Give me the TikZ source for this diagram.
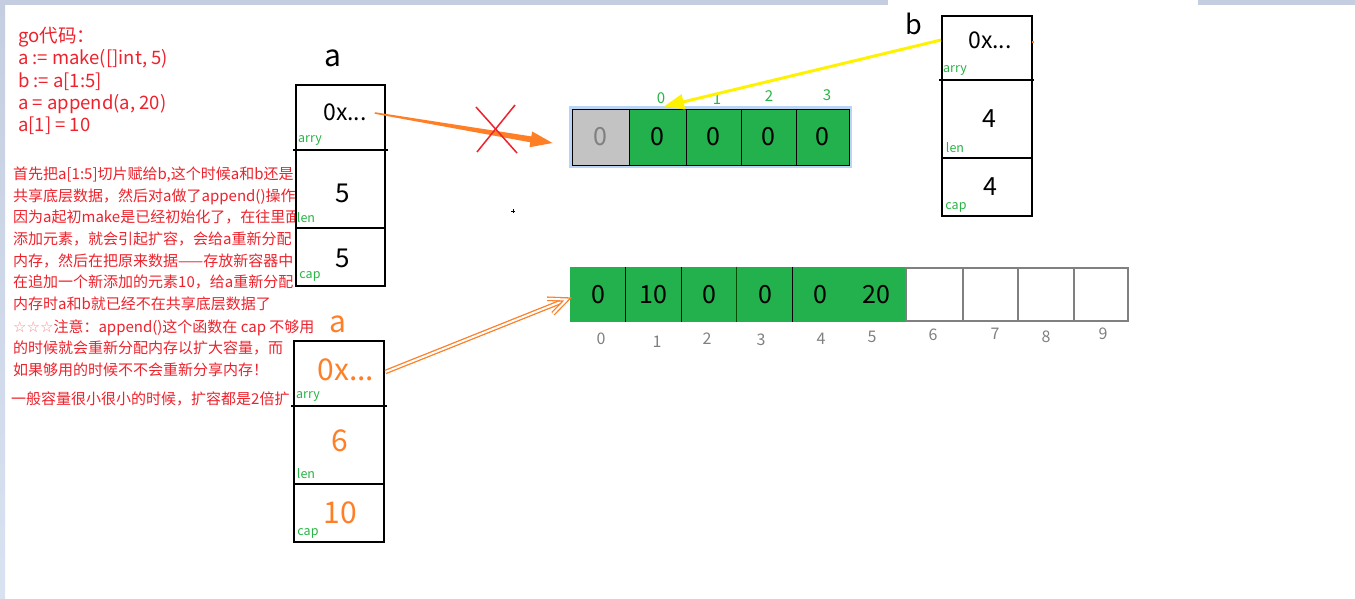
\documentclass[tikz,border=0pt]{standalone}
\usepackage{fontspec}
\setmainfont{Noto Sans CJK SC}
\newfontfamily\djv{DejaVu Sans}
\usetikzlibrary{arrows.meta,calc}
\definecolor{redc}{RGB}{238,34,44}
\definecolor{starc}{RGB}{245,140,140}
\definecolor{orangec}{RGB}{255,127,39}
\definecolor{greenc}{RGB}{34,177,76}
\definecolor{lgreen}{RGB}{40,180,70}
\definecolor{grayc}{RGB}{195,195,195}
\definecolor{idxgray}{RGB}{128,128,128}
\definecolor{yellowc}{RGB}{255,242,0}
\definecolor{stripc}{RGB}{197,206,224}
\definecolor{glowc}{RGB}{185,212,245}
\begin{document}
\begin{tikzpicture}[x=1pt,y=-1pt,
  redtext/.style={text=redc,inner sep=0,anchor=north west,align=left},
  frame/.style={draw=black,line width=2pt,fill=white,inner sep=0},
  divider/.style={draw=black,line width=2pt},
  val/.style={inner sep=0,font=\fontsize{26}{30}\selectfont},
  oval/.style={inner sep=0,text=orangec,font=\fontsize{30}{34}\selectfont},
  fld/.style={inner sep=0,text=lgreen,font=\fontsize{12.5}{14}\selectfont},
  tcell/.style={draw=black,line width=1pt,inner sep=0,minimum height=56pt,font=\fontsize{25}{28}\selectfont},
  gcell/.style={fill=greenc,inner sep=0,minimum height=55pt,font=\fontsize{25}{28}\selectfont},
  wcell/.style={draw=idxgray,line width=2pt,fill=white,inner sep=0,minimum height=53pt},
  tidx/.style={inner sep=0,text=lgreen,font=\fontsize{15}{17}\selectfont},
  bidx/.style={inner sep=0,text=idxgray,font=\fontsize{16}{18}\selectfont},
  lbl/.style={inner sep=0,font=\fontsize{30}{34}\selectfont},
  dbl/.style={orangec,line width=1.3pt,double=white,double distance=2pt}
]
\useasboundingbox (0,0) rectangle (1355,598);
\fill[white] (0,0) rectangle (1355,598);
% window strips
\fill[stripc] (0,0) rectangle (888,5);
\fill[stripc] (1198,0) rectangle (1355,5);
\shade[top color=stripc,bottom color={rgb,255:red,217;green,226;blue,241}] (0,0) rectangle (5,598);

% code and explanation
\node[redtext,font=\fontsize{18.5}{22.3}\selectfont] (code) at (18,27)
  {go代码：\\a := make([]int, 5)\\b := a[1:5]\\a = append(a, 20)\\a[1] = 10};
\node[redtext,font=\fontsize{15}{21.7}\selectfont] (expl) at (13,166.5)
  {首先把a[1:5]切片赋给b,这个时候a和b还是\\
   共享底层数据，然后对a做了append()操作\\
   因为a起初make是已经初始化了，在往里面\\
   添加元素，就会引起扩容，会给a重新分配\\
   内存，然后在把原来数据——存放新容器中\\
   在追加一个新添加的元素10，给a重新分配\\
   内存时a和b就已经不在共享底层数据了};
\node[redtext,font=\fontsize{15}{21.5}\selectfont] (note) at (13,319.5)
  {{\djv\textcolor{starc}{☆☆☆}}注意：append()这个函数在 cap 不够用\\
   的时候就会重新分配内存以扩大容量，而\\
   如果够用的时候不不会重新分享内存！};
\node[redtext,font=\fontsize{15}{21.5}\selectfont] (grow) at (11,391.5)
  {一般容量很小很小的时候，扩容都是2倍扩};

% slice a (before)
\node[lbl] (la) at (333,58) {a};
\node[frame,minimum width=89pt,minimum height=201pt] (A1) at (340.5,185.5) {};
\draw[divider] (293,150) -- (388,150);
\draw[divider] (296,228) -- (385,228);
\node[val,font=\fontsize{23}{26}\selectfont] (a1p) at (345,112) {0x...};
\node[fld] (a1f1) at (310,140) {arry};
\node[val] (a1l) at (343,193) {5};
\node[fld] (a1f2) at (306,218) {len};
\node[val] (a1c) at (343,258) {5};
\node[fld] (a1f3) at (310,276) {cap};

% slice a (after)
\node[lbl,text=orangec] (la2) at (338,324) {a};
\node[frame,minimum width=90pt,minimum height=201pt] (A2) at (339,441.5) {};
\draw[divider] (291,406) -- (387,406);
\draw[divider] (294,484) -- (384,484);
\node[oval] (a2p) at (346,370) {0x...};
\node[fld] (a2f1) at (308,396) {arry};
\node[oval] (a2l) at (340,441) {6};
\node[fld] (a2f2) at (306,474) {len};
\node[oval] (a2c) at (340,513) {10};
\node[fld] (a2f3) at (308,533) {cap};

% slice b
\node[lbl,font=\fontsize{27}{30}\selectfont] (lb) at (914,24) {b};
\node[frame,minimum width=90pt,minimum height=200pt] (B) at (987,116) {};
\draw[divider] (939,80) -- (1034,80);
\draw[divider] (942,158) -- (1032,158);
\node[val,font=\fontsize{23}{26}\selectfont] (bp) at (990,40) {0x...};
\node[fld] (bf1) at (955,70) {arry};
\node[val,font=\fontsize{25}{28}\selectfont] (bl) at (989,119) {4};
\node[fld] (bf2) at (955,148) {len};
\node[val,font=\fontsize{25}{28}\selectfont] (bc) at (990,187) {4};
\node[fld] (bf3) at (956,207) {cap};
\fill[orangec] (1032,41) rectangle (1034,43);

% old underlying array
\draw[glowc,line width=3pt] (570.5,107.5) rectangle (850.5,166.5);
\node[tcell,fill=grayc,text=idxgray,minimum width=57pt] (t0) at (600.5,137) {0};
\node[tcell,fill=greenc,minimum width=57pt] (t1) at (657.5,137) {0};
\node[tcell,fill=greenc,minimum width=55pt] (t2) at (713.5,137) {0};
\node[tcell,fill=greenc,minimum width=55pt] (t3) at (768.5,137) {0};
\node[tcell,fill=greenc,minimum width=53pt] (t4) at (822.5,137) {0};
\node[tidx] (i0) at (661,98) {0};
\node[tidx] (i1) at (717,99) {1};
\node[tidx] (i2) at (769,96) {2};
\node[tidx] (i3) at (827,95) {3};

% new underlying array
\node[gcell,minimum width=56pt] (b0) at (598,294.5) {0};
\node[gcell,minimum width=55pt] (b1) at (653.5,294.5) {10};
\node[gcell,minimum width=56pt] (b2) at (709,294.5) {0};
\node[gcell,minimum width=56pt] (b3) at (765,294.5) {0};
\node[gcell,minimum width=55pt] (b4) at (820.5,294.5) {0};
\node[gcell,minimum width=57pt] (b5) at (876.5,294.5) {20};
\draw[black,line width=1.2pt] (b1.north west) -- (b1.south west);
\draw[black!60!blue,line width=0.6pt] (b2.north west) -- (b2.south west);
\draw[black!70!green,line width=0.8pt] (b3.north west) -- (b3.south west);
\draw[black,line width=1.2pt] (b4.north west) -- (b4.south west);
\node[wcell,minimum width=57pt] (b6) at (934,294.5) {};
\node[wcell,minimum width=55pt] (b7) at (990.5,294.5) {};
\node[wcell,minimum width=56pt] (b8) at (1046,294.5) {};
\node[wcell,minimum width=54pt] (b9) at (1101,294.5) {};
\node[bidx] (j0) at (601,339) {0};
\node[bidx] (j1) at (657,342) {1};
\node[bidx] (j2) at (707,339) {2};
\node[bidx] (j3) at (761,340) {3};
\node[bidx] (j4) at (821,339) {4};
\node[bidx] (j5) at (872,337) {5};
\node[bidx] (j6) at (933,335) {6};
\node[bidx] (j7) at (995,334) {7};
\node[bidx] (j8) at (1046,337) {8};
\node[bidx] (j9) at (1103,334) {9};

% old pointer (crossed out), tapered orange arrow
\coordinate (s) at ($(a1p.east)+(8,1)$);
\coordinate (t) at ($(t0.west)+(-19,6)$);
\coordinate (hb) at ($(t)!22pt!(s)$);
\fill[orangec] ($(s)!0.8pt!90:(t)$) -- ($(hb)!3pt!90:(t)$) -- ($(hb)!8pt!90:(t)$)
  -- (t) -- ($(hb)!8pt!-90:(t)$) -- ($(hb)!3pt!-90:(t)$) -- ($(s)!0.8pt!-90:(t)$) -- cycle;
\draw[redc,line width=1.5pt] (476,107) -- (517,153);
\draw[redc,line width=1.5pt] (515,105) -- (477,152);

% b pointer
\draw[yellowc,line width=3pt,-{Triangle[length=20pt,width=15pt]}]
  (B.north west |- bp) -- ($(t1.north)+(6.5,-2)$);

% new pointer: hollow double arrow
\coordinate (s2) at ($(a2p.east)+(11,2)$);
\coordinate (t2) at ($(b0.west)+(-3,5)$);
\coordinate (hb2) at ($(t2)!18pt!(s2)$);
\draw[dbl] (s2) -- ($(t2)!3pt!(s2)$);
\draw[dbl,line join=miter] ($(hb2)!8pt!90:(t2)$) -- (t2) -- ($(hb2)!8pt!-90:(t2)$);

% stray mark
\draw[black,line width=0.6pt] (511,211) -- (515,211) (513,209) -- (513,213);
\end{tikzpicture}
\end{document}
